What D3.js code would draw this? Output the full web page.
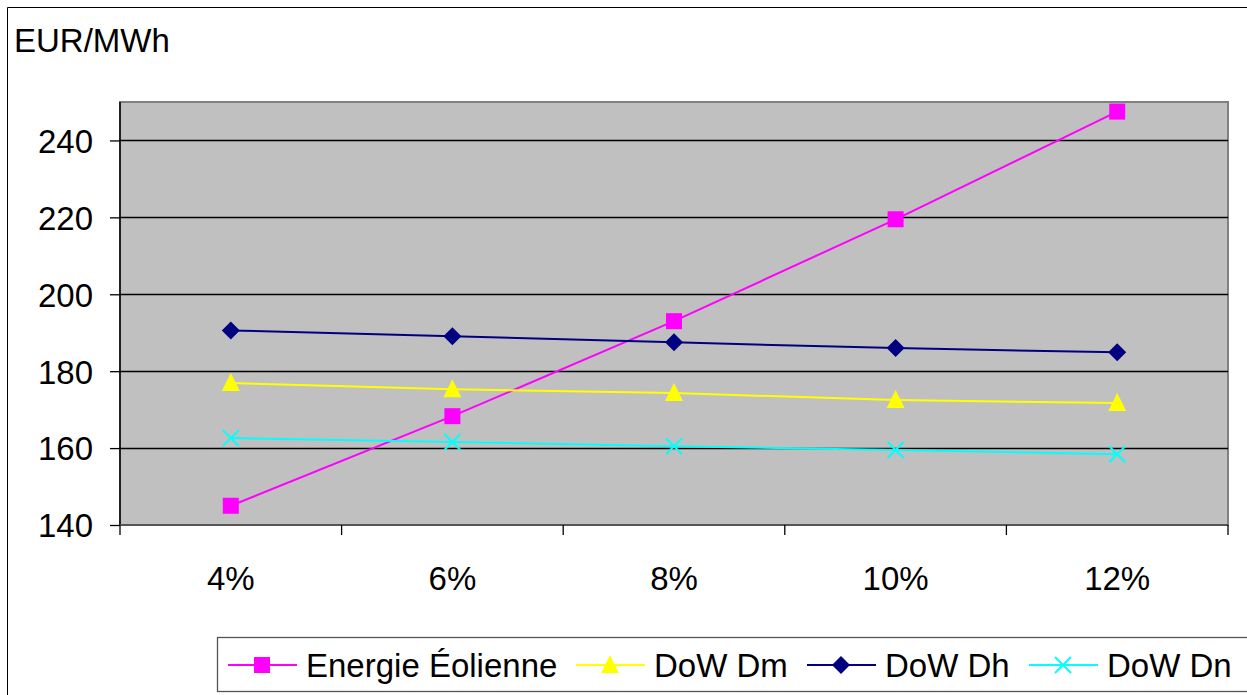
<!DOCTYPE html>
<html>
<head>
<meta charset="utf-8">
<script src="https://cdn.jsdelivr.net/npm/d3@7"></script>
<style>
  html, body { margin: 0; padding: 0; background: #fff; }
  svg { display: block; font-family: "Liberation Sans", Arial, sans-serif; }
</style>
</head>
<body>
<svg id="chart" width="1247" height="695"></svg>
<script>
// Share of wind power in the mix (x categories)
const categories = ["4%", "6%", "8%", "10%", "12%"];
// Cost in EUR/MWh per scenario
const eolienne = [145, 168.3, 193, 219.5, 247.5];
const dowDm = [176.9, 175.3, 174.3, 172.5, 171.7];
const dowDh = [190.6, 189.1, 187.5, 186, 184.9];
const dowDn = [162.6, 161.6, 160.5, 159.5, 158.4];
const yTicks = [140, 160, 180, 200, 220, 240];
const seriesNames = ["Energie Éolienne", "DoW Dm", "DoW Dh", "DoW Dn"];

const series = [
  { name: seriesNames[0], values: eolienne, color: "#FF00FF", marker: "square" },
  { name: seriesNames[1], values: dowDm, color: "#FFFF00", marker: "triangle" },
  { name: seriesNames[2], values: dowDh, color: "#000080", marker: "diamond" },
  { name: seriesNames[3], values: dowDn, color: "#00FFFF", marker: "cross" }
];

const FS = 33;
const svg = d3.select("#chart");
const plot = { left: 120, top: 102, right: 1228, bottom: 525 };

// Outer chart frame
svg.append("path")
  .attr("d", "M7.5,700 V7.5 H1260")
  .attr("fill", "none").attr("stroke", "#000").attr("stroke-width", 1);

const x = d3.scaleBand().domain(categories).range([plot.left, plot.right]);
const y = d3.scaleLinear().domain([140, 250]).range([plot.bottom, plot.top]);

// Plot background
svg.append("rect")
  .attr("x", plot.left).attr("y", plot.top)
  .attr("width", plot.right - plot.left).attr("height", plot.bottom - plot.top)
  .attr("fill", "#C0C0C0").attr("stroke", "#808080").attr("stroke-width", 2);

// Horizontal gridlines
svg.append("g").selectAll("line").data(yTicks.filter(t => t > 140)).join("line")
  .attr("x1", plot.left).attr("x2", plot.right)
  .attr("y1", d => Math.round(y(d)) + 0.5).attr("y2", d => Math.round(y(d)) + 0.5)
  .attr("stroke", "#000").attr("stroke-width", 1.3);

// Y axis
const yAxis = svg.append("g").attr("transform", `translate(${plot.left},0)`)
  .call(d3.axisLeft(y).tickValues(yTicks).tickSize(10).tickPadding(17));
yAxis.select(".domain").attr("stroke", "#000").attr("stroke-width", 1.5)
  .attr("d", `M0,${plot.bottom}V${plot.top}`);
yAxis.selectAll(".tick line").attr("stroke", "#000").attr("stroke-width", 1.3);
yAxis.selectAll("text").attr("font-size", FS).attr("fill", "#000")
  .attr("font-family", "Liberation Sans, Arial, sans-serif").attr("dy", "0.36em");

// X axis: ticks at category boundaries
const xAxis = svg.append("g").attr("transform", `translate(0,${plot.bottom})`);
xAxis.append("line").attr("x1", plot.left).attr("x2", plot.right)
  .attr("y1", 0).attr("y2", 0).attr("stroke", "#555").attr("stroke-width", 2);
const bounds = categories.map(c => x(c)).concat([x(categories[categories.length - 1]) + x.bandwidth()]);
xAxis.selectAll("line.tk").data(bounds).join("line").attr("class", "tk")
  .attr("x1", d => d).attr("x2", d => d).attr("y1", 0).attr("y2", 10)
  .attr("stroke", "#000").attr("stroke-width", 1.3);
xAxis.selectAll("text").data(categories).join("text")
  .attr("x", d => x(d) + x.bandwidth() / 2).attr("y", 65)
  .attr("text-anchor", "middle").attr("font-size", FS).attr("fill", "#000")
  .text(d => d);

// Axis title
svg.append("text").attr("x", 14).attr("y", 52).attr("font-size", FS).attr("fill", "#000")
  .text("EUR/MWh");

function drawMarker(g, type, color, cx, cy) {
  if (type === "square") {
    g.append("rect").attr("x", cx - 8).attr("y", cy - 8).attr("width", 16).attr("height", 16).attr("fill", color);
  } else if (type === "triangle") {
    g.append("path").attr("d", `M${cx},${cy - 10}L${cx + 9},${cy + 8}L${cx - 9},${cy + 8}Z`).attr("fill", color);
  } else if (type === "diamond") {
    g.append("path").attr("d", `M${cx},${cy - 9}L${cx + 9},${cy}L${cx},${cy + 9}L${cx - 9},${cy}Z`).attr("fill", color);
  } else if (type === "cross") {
    g.append("path").attr("d", `M${cx - 8},${cy - 8}L${cx + 8},${cy + 8}M${cx + 8},${cy - 8}L${cx - 8},${cy + 8}`)
      .attr("stroke", color).attr("stroke-width", 2).attr("fill", "none");
  }
}

const line = d3.line().x((d, i) => x(categories[i]) + x.bandwidth() / 2).y(d => y(d));

series.forEach(s => {
  const g = svg.append("g");
  g.append("path").attr("d", line(s.values)).attr("fill", "none")
    .attr("stroke", s.color).attr("stroke-width", 2);
  s.values.forEach((v, i) => drawMarker(g, s.marker, s.color, x(categories[i]) + x.bandwidth() / 2, y(v)));
});

// Legend
const legend = svg.append("g");
legend.append("rect").attr("x", 217.5).attr("y", 637.5).attr("width", 1100).attr("height", 54)
  .attr("fill", "#fff").attr("stroke", "#555").attr("stroke-width", 1.3);
const legendX = [228, 576, 807, 1029];
series.forEach((s, i) => {
  const lx = legendX[i], ly = 665;
  legend.append("line").attr("x1", lx).attr("x2", lx + 69).attr("y1", ly).attr("y2", ly)
    .attr("stroke", s.color).attr("stroke-width", 2);
  drawMarker(legend, s.marker, s.color, lx + 34, ly);
  legend.append("text").attr("x", lx + 78).attr("y", ly + 12).attr("font-size", FS).attr("fill", "#000")
    .text(s.name);
});
</script>
</body>
</html>
